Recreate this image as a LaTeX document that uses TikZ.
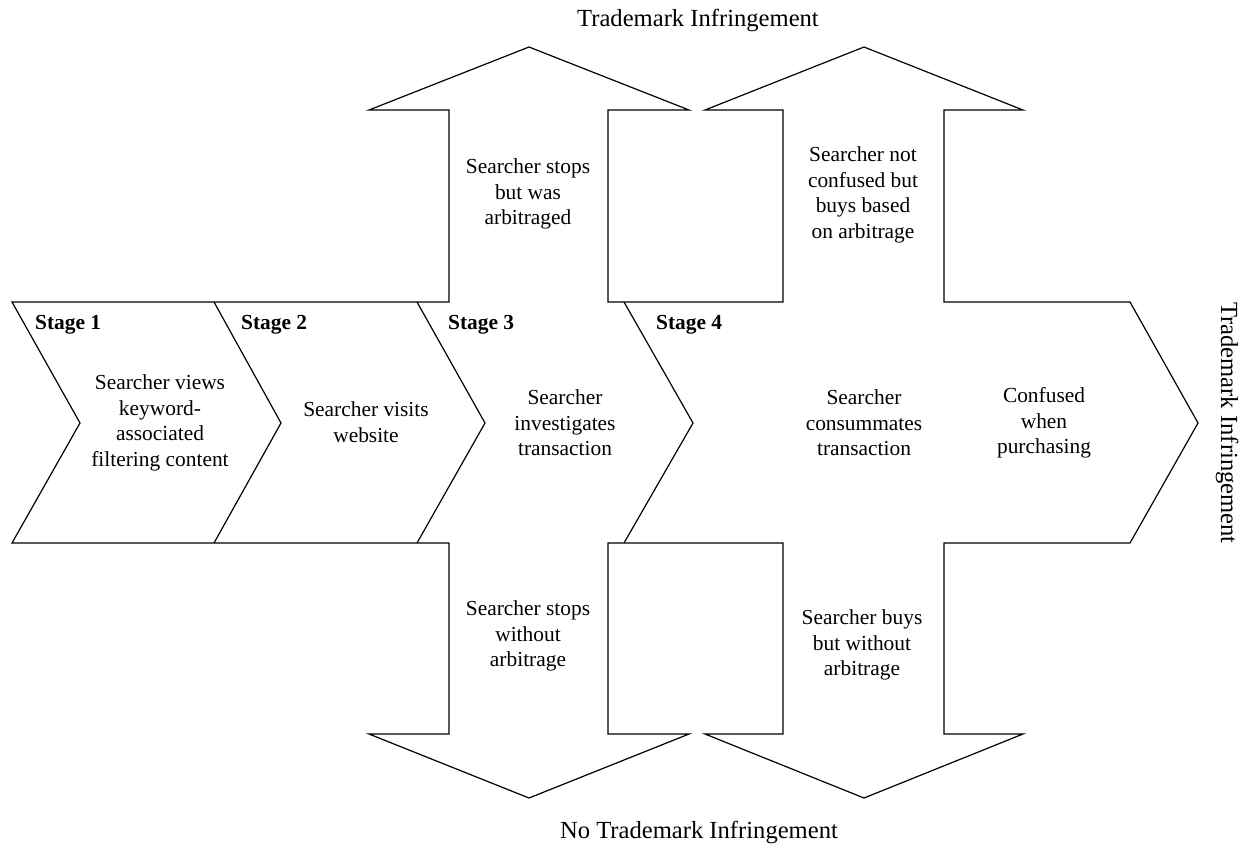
\documentclass[tikz,border=0pt]{standalone}
\usepackage{fontspec}
\setmainfont{Liberation Serif}
\tikzset{
  outline/.style={draw=black, line width=1.2pt, line join=miter},
  body/.style={font=\fontsize{21.4}{25.5}\selectfont, align=center, inner sep=0pt},
  stagelbl/.style={font=\fontsize{21.4}{25.5}\selectfont\bfseries, inner sep=0pt, anchor=west},
  titletext/.style={font=\fontsize{24.6}{29}\selectfont, inner sep=0pt}
}
\begin{document}
\begin{tikzpicture}[x=1pt,y=-1pt]
\path[use as bounding box] (0,0) rectangle (1249,847);
% outer outline: chevron band with up and down arrows
\draw[outline] (12,302) -- (449,302) -- (449,110) -- (369,110) -- (529,47) -- (689,110)
  -- (608,110) -- (608,302) -- (783,302) -- (783,110) -- (705,110) -- (864,47)
  -- (1023,110) -- (944,110) -- (944,302) -- (1130,302) -- (1198,423) -- (1130,543)
  -- (944,543) -- (944,734) -- (1023,734) -- (864,798) -- (705,734) -- (783,734)
  -- (783,543) -- (608,543) -- (608,734) -- (689,734) -- (529,798) -- (369,734)
  -- (449,734) -- (449,543) -- (12,543) -- (80,423) -- cycle;
% inner chevron separators
\draw[outline] (214,302) -- (281,423) -- (214,543);
\draw[outline] (417,302) -- (485,423) -- (417,543);
\draw[outline] (624,302) -- (693,423) -- (624,543);
% stage labels
\node[stagelbl] (s1) at (35,325) {Stage 1};
\node[stagelbl] (s2) at (241,325) {Stage 2};
\node[stagelbl] (s3) at (448,325) {Stage 3};
\node[stagelbl] (s4) at (656,325) {Stage 4};
% band texts
\node[body] (t1) at (160,423) {Searcher views\\keyword-\\associated\\filtering content};
\node[body] (t2) at (366,422) {Searcher visits\\website};
\node[body] (t3) at (565,423) {Searcher\\investigates\\transaction};
\node[body] (t4) at (864,423) {Searcher\\consummates\\transaction};
\node[body] (t5) at (1044,423) {Confused\\when\\purchasing};
% arrow texts
\node[body] (u1) at (528,194) {Searcher stops\\but was\\arbitraged};
\node[body] (u2) at (863,195) {Searcher not\\confused but\\buys based\\on arbitrage};
\node[body] (d1) at (528,636) {Searcher stops\\without\\arbitrage};
\node[body] (d2) at (862,645) {Searcher buys\\but without\\arbitrage};
% outcome labels
\node[titletext] (top) at (698,20) {Trademark Infringement};
\node[titletext] (bot) at (699,832) {No Trademark Infringement};
\node[titletext, rotate=-90] (right) at (1227,423) {Trademark Infringement};
\end{tikzpicture}
\end{document}
